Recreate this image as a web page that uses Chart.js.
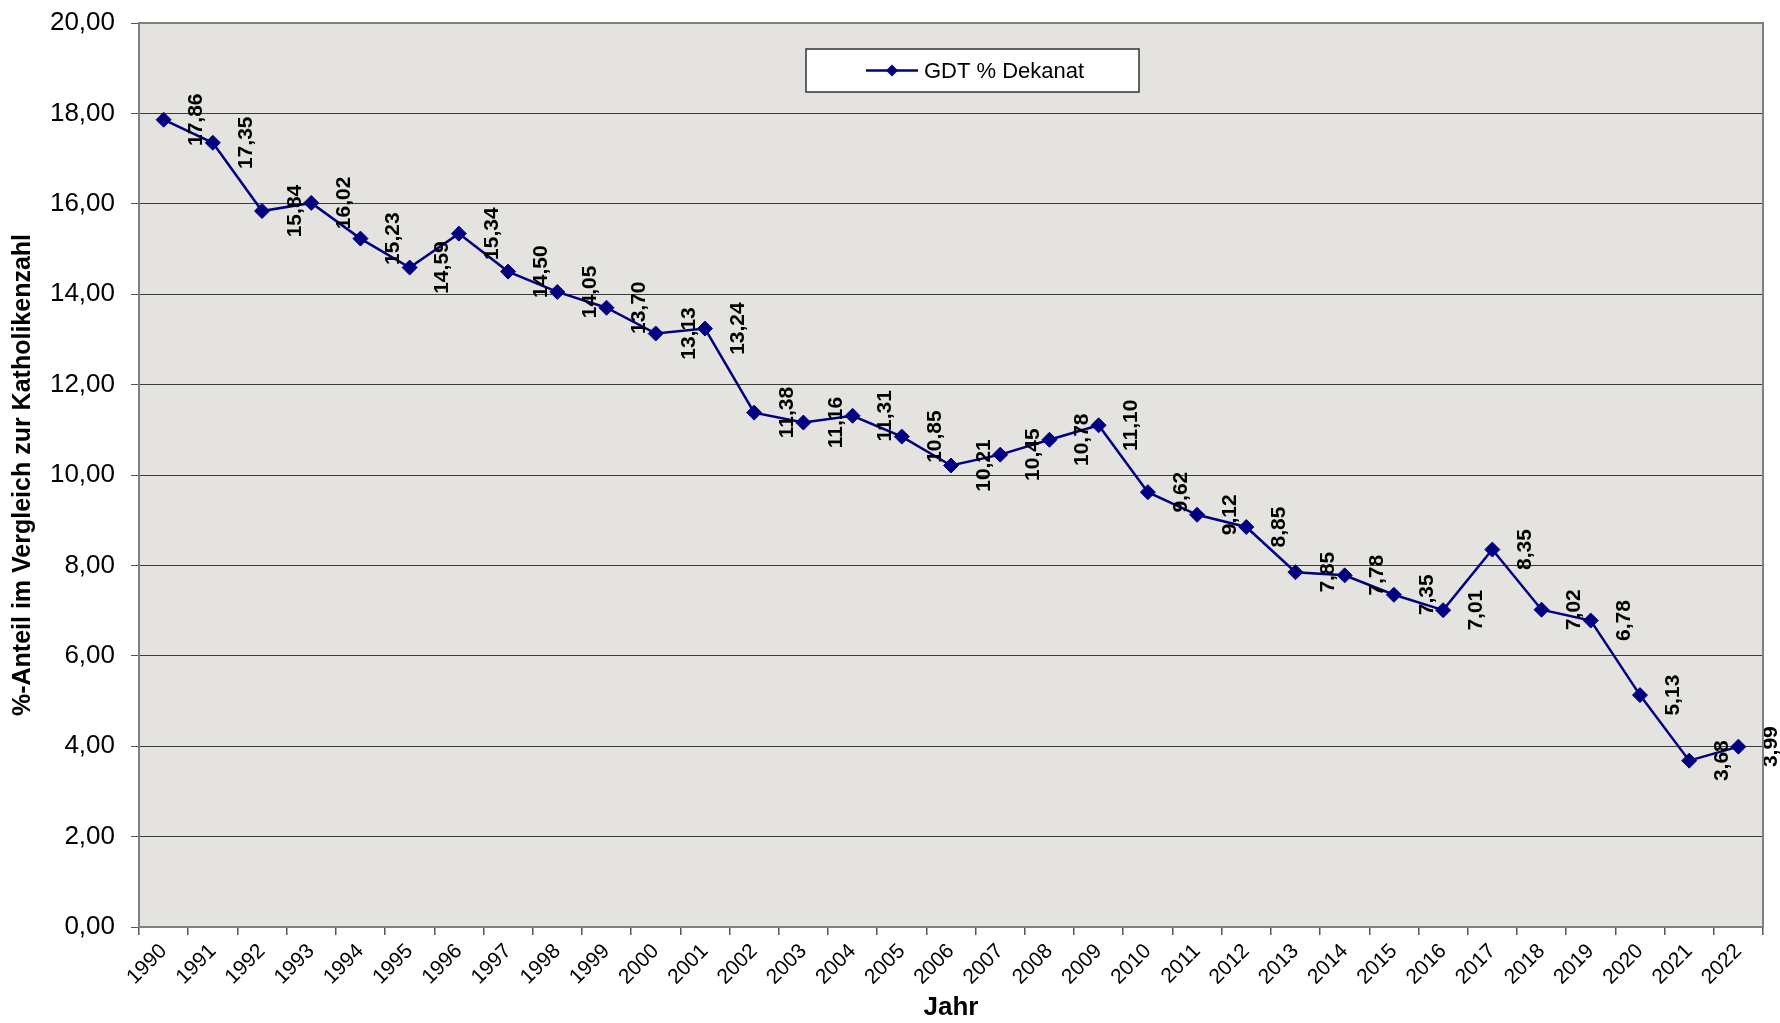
<!DOCTYPE html>
<html>
<head>
<meta charset="utf-8">
<script src="https://cdn.jsdelivr.net/npm/chart.js@4.4.1/dist/chart.umd.min.js"></script>
<style>
  html, body { margin: 0; padding: 0; background: #ffffff; }
  #wrap { width: 1780px; height: 1023px; position: relative; }
</style>
</head>
<body>
<div id="wrap"><canvas id="chart" width="1780" height="1023"></canvas></div>
<script>
// Data
const years = ['1990', '1991', '1992', '1993', '1994', '1995', '1996', '1997', '1998', '1999',
  '2000', '2001', '2002', '2003', '2004', '2005', '2006', '2007', '2008', '2009',
  '2010', '2011', '2012', '2013', '2014', '2015', '2016', '2017', '2018', '2019',
  '2020', '2021', '2022'];
const gdtDekanat = [17.86, 17.35, 15.84, 16.02, 15.23, 14.59, 15.34, 14.50, 14.05, 13.70,
  13.13, 13.24, 11.38, 11.16, 11.31, 10.85, 10.21, 10.45, 10.78, 11.10,
  9.62, 9.12, 8.85, 7.85, 7.78, 7.35, 7.01, 8.35, 7.02, 6.78,
  5.13, 3.68, 3.99];
const seriesLabel = 'GDT % Dekanat';
const yMin = 0;
const yMax = 20;
const yStep = 2;

const FONT = 'Arial, "Liberation Sans", sans-serif';
const NAVY = '#000080';

function fmt(v) {
  return v.toFixed(2).replace('.', ',');
}

// plot area background and frame
const plotFrame = {
  id: 'plotFrame',
  beforeDraw(chart) {
    const { ctx, chartArea: a } = chart;
    ctx.save();
    ctx.fillStyle = '#e4e3e0';
    ctx.fillRect(a.left, a.top, a.right - a.left, a.bottom - a.top);
    ctx.restore();
  },
  afterDraw(chart) {
    const { ctx, chartArea: a } = chart;
    ctx.save();
    ctx.strokeStyle = '#808080';
    ctx.lineWidth = 2;
    ctx.strokeRect(a.left, a.top, a.right - a.left, a.bottom - a.top);
    ctx.restore();
  }
};

// vertical value labels to the right of each point
const valueLabels = {
  id: 'valueLabels',
  afterDatasetsDraw(chart) {
    const { ctx } = chart;
    const meta = chart.getDatasetMeta(0);
    const data = chart.data.datasets[0].data;
    ctx.save();
    ctx.font = 'bold 21px ' + FONT;
    ctx.fillStyle = '#000000';
    ctx.textAlign = 'center';
    ctx.textBaseline = 'middle';
    meta.data.forEach((pt, i) => {
      ctx.save();
      ctx.translate(pt.x + 33, pt.y);
      ctx.rotate(-Math.PI / 2);
      ctx.fillText(fmt(data[i]), 0, 0);
      ctx.restore();
    });
    ctx.restore();
  }
};

// boxed legend inside the plot area
const boxLegend = {
  id: 'boxLegend',
  afterDraw(chart) {
    const { ctx } = chart;
    const ds = chart.data.datasets[0];
    const x = 806, y = 49, w = 333, h = 43;
    const cy = y + h / 2;
    ctx.save();
    ctx.fillStyle = '#ffffff';
    ctx.fillRect(x, y, w, h);
    ctx.strokeStyle = '#333333';
    ctx.lineWidth = 1.5;
    ctx.strokeRect(x, y, w, h);
    ctx.strokeStyle = ds.borderColor;
    ctx.lineWidth = 2.5;
    ctx.beginPath();
    ctx.moveTo(866, cy);
    ctx.lineTo(918, cy);
    ctx.stroke();
    ctx.fillStyle = ds.borderColor;
    ctx.beginPath();
    ctx.moveTo(892 - 6, cy);
    ctx.lineTo(892, cy - 6);
    ctx.lineTo(892 + 6, cy);
    ctx.lineTo(892, cy + 6);
    ctx.closePath();
    ctx.fill();
    ctx.fillStyle = '#000000';
    ctx.font = '22px ' + FONT;
    ctx.textAlign = 'left';
    ctx.textBaseline = 'middle';
    ctx.fillText(ds.label, 924, cy + 1);
    ctx.restore();
  }
};

const ctx = document.getElementById('chart');
new Chart(ctx, {
  type: 'line',
  data: {
    labels: years,
    datasets: [{
      label: seriesLabel,
      data: gdtDekanat,
      borderColor: NAVY,
      backgroundColor: NAVY,
      borderWidth: 2.5,
      tension: 0,
      fill: false,
      pointStyle: 'rectRot',
      pointRadius: 7.5,
      pointBorderWidth: 1,
      pointBackgroundColor: NAVY,
      pointBorderColor: NAVY
    }]
  },
  options: {
    responsive: false,
    animation: false,
    devicePixelRatio: 1,
    layout: { padding: { top: 23, right: 17, left: 0, bottom: 0 } },
    plugins: {
      legend: { display: false },
      tooltip: { enabled: false }
    },
    scales: {
      x: {
        type: 'category',
        offset: true,
        grid: { display: true, drawOnChartArea: false, offset: true, color: '#555555', tickLength: 8, lineWidth: 1.5 },
        border: { display: false },
        ticks: {
          color: '#000000',
          font: { family: FONT, size: 21 },
          maxRotation: 45,
          minRotation: 45,
          autoSkip: false,
          padding: 4
        },
        title: {
          display: true,
          text: 'Jahr',
          color: '#000000',
          font: { family: FONT, size: 26, weight: 'bold' },
          padding: { top: 0, bottom: 0 }
        },
        afterFit(scale) { scale.height = 96; }
      },
      y: {
        min: yMin,
        max: yMax,
        grid: { color: '#3a3a3a', lineWidth: 1, tickLength: 8, tickColor: '#555555' },
        border: { display: false },
        ticks: {
          stepSize: yStep,
          color: '#000000',
          font: { family: FONT, size: 26 },
          padding: 16,
          callback: function(value) { return fmt(value); }
        },
        title: {
          display: true,
          text: '%-Anteil im Vergleich zur Katholikenzahl',
          color: '#000000',
          font: { family: FONT, size: 25, weight: 'bold' },
          padding: { top: 8, bottom: 0 }
        },
        afterFit(scale) {
          scale.width = 139;
          scale.paddingTop = 0;
          scale.paddingBottom = 0;
        }
      }
    }
  },
  plugins: [plotFrame, valueLabels, boxLegend]
});
</script>
</body>
</html>
